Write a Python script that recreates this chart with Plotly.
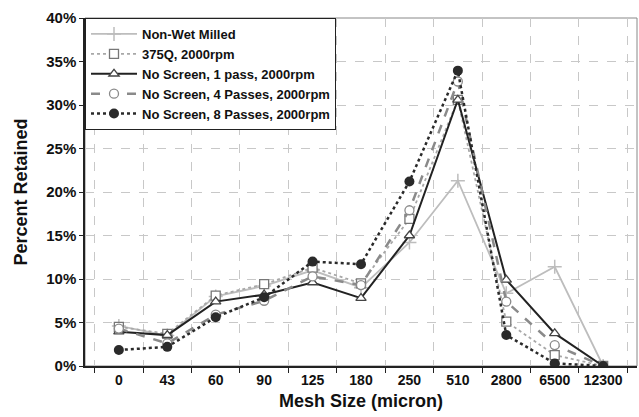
import plotly.graph_objects as go

categories = ["0", "43", "60", "90", "125", "180", "250", "510", "2800", "6500", "12300"]
non_wet = [4.6, 3.5, 8.0, 9.2, 11.0, 9.0, 14.2, 21.3, 8.35, 11.4, 0.0]
q375 = [4.5, 3.7, 8.1, 9.4, 11.3, 9.5, 16.9, 30.6, 5.1, 1.26, 0.0]
pass1 = [3.95, 3.55, 7.4, 8.2, 9.6, 7.8, 15.0, 30.6, 9.9, 3.75, 0.0]
pass4 = [4.3, 2.6, 5.9, 7.5, 10.3, 9.3, 17.9, 32.7, 7.4, 2.4, 0.0]
pass8 = [1.84, 2.2, 5.6, 7.9, 12.0, 11.7, 21.2, 33.95, 3.56, 0.3, 0.0]
y_ticks = [0, 5, 10, 15, 20, 25, 30, 35, 40]

fig = go.Figure()

def frac(v):
    return [x / 100 for x in v]

fig.add_trace(go.Scatter(
    x=categories, y=frac(non_wet), name="Non-Wet Milled", mode="lines+markers",
    line=dict(color="#bdbdbd", width=1.8),
    marker=dict(symbol="cross-thin-open", size=10, line=dict(color="#bdbdbd", width=1.5)),
))
fig.add_trace(go.Scatter(
    x=categories, y=frac(q375), name="375Q, 2000rpm", mode="lines+markers",
    line=dict(color="#a8a8a8", width=1.8, dash="dot"),
    marker=dict(symbol="square", size=9, color="white", line=dict(color="#777777", width=1.3)),
))
fig.add_trace(go.Scatter(
    x=categories, y=frac(pass1), name="No Screen, 1 pass, 2000rpm", mode="lines+markers",
    line=dict(color="#222222", width=2),
    marker=dict(symbol="triangle-up", size=9, color="white", line=dict(color="#444444", width=1.3)),
))
fig.add_trace(go.Scatter(
    x=categories, y=frac(pass4), name="No Screen, 4 Passes, 2000rpm", mode="lines+markers",
    line=dict(color="#8a8a8a", width=2.5, dash="dash"),
    marker=dict(symbol="circle", size=9, color="white", line=dict(color="#8a8a8a", width=1.3)),
))
fig.add_trace(go.Scatter(
    x=categories, y=frac(pass8), name="No Screen, 8 Passes, 2000rpm", mode="lines+markers",
    line=dict(color="#2a2a2a", width=2.5, dash="dot"),
    marker=dict(symbol="circle", size=10, color="#2a2a2a"),
))

grid = dict(showgrid=True, gridcolor="#c8c8c8", griddash="dash", gridwidth=1)

fig.update_layout(
    width=639, height=417,
    margin=dict(l=85, r=2, t=18, b=51),
    paper_bgcolor="white", plot_bgcolor="white",
    font=dict(family="Liberation Sans, Arial", size=12, color="#111111", weight="bold"),
    showlegend=True,
    legend=dict(
        x=0, y=1, xanchor="left", yanchor="top",
        bgcolor="white", bordercolor="#222222", borderwidth=1,
        font=dict(size=13, weight="bold"), tracegroupgap=0,
        itemwidth=46,
    ),
    xaxis=dict(
        type="category", tickson="boundaries", ticks="outside", ticklen=5,
        tickcolor="#222222", linecolor="#222222", linewidth=1.5,
        tickangle=0, automargin=False,
        title=dict(text="Mesh Size (micron)", font=dict(size=18, weight="bold"), standoff=8),
        tickfont=dict(size=14, weight="bold"),
        **grid,
    ),
    yaxis=dict(
        range=[0, 0.40], tickvals=[t / 100 for t in y_ticks],
        ticktext=[f"{t}%" for t in y_ticks],
        ticks="outside", ticklen=4, tickcolor="#222222",
        linecolor="#222222", linewidth=1.5, zeroline=False, automargin=False,
        title=dict(text="Percent Retained", font=dict(size=18, weight="bold"), standoff=14),
        tickfont=dict(size=15, weight="bold"),
        **grid,
    ),
    shapes=[dict(type="rect", xref="paper", yref="paper", x0=0, x1=1, y0=0, y1=1,
                 line=dict(color="#888888", width=1), layer="below")],
)

fig.write_html("out.html")
